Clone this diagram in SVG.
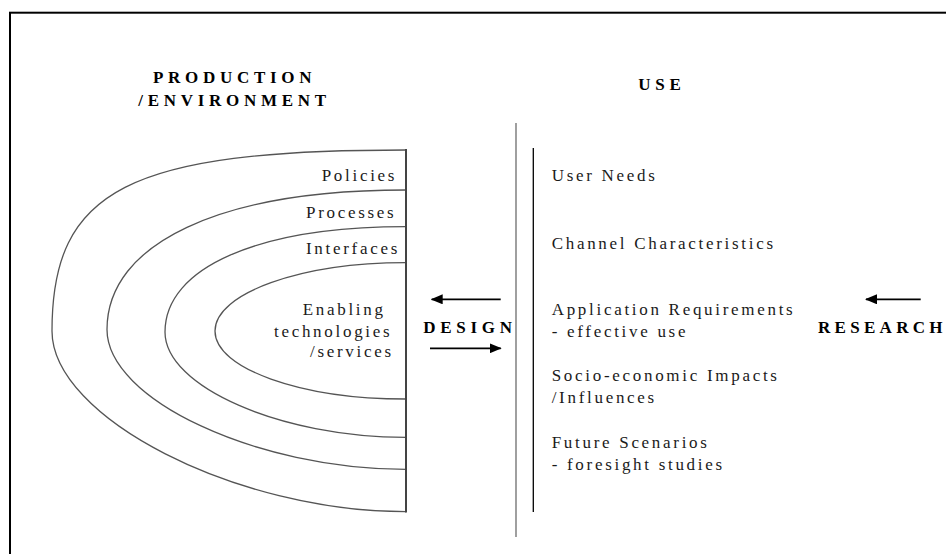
<svg xmlns="http://www.w3.org/2000/svg" width="946" height="554" viewBox="0 0 946 554">
  <style>
    .frame { fill: none; stroke: #000; stroke-width: 2; }
    .ring { fill: none; stroke: #555; stroke-width: 1.3; }
    .spine { fill: none; stroke: #444; stroke-width: 2; }
    .divider { fill: none; stroke: #888; stroke-width: 1.6; }
    .rule { fill: none; stroke: #000; stroke-width: 1.3; }
    .arrow { fill: none; stroke: #000; stroke-width: 1.8; marker-end: url(#head); }
    .head { font-family: "Liberation Serif", "Times New Roman", serif; font-weight: bold; font-size: 17px; letter-spacing: 4.7px; fill: #000; }
    .label { font-family: "Liberation Serif", "Times New Roman", serif; font-size: 17px; letter-spacing: 2.7px; fill: #1a1a1a; }
  </style>
  <defs>
    <marker id="head" viewBox="0 0 12 10" refX="11" refY="5" markerWidth="12" markerHeight="10" markerUnits="userSpaceOnUse" orient="auto">
      <path d="M0,0 L12,5 L0,10 z" fill="#000"/>
    </marker>
  </defs>

  <rect class="frame" x="10" y="12.7" width="1000" height="600"/>

  <!-- column headings -->
  <g id="production">
    <text class="head" x="153" y="82.7">PRODUCTION</text>
    <text class="head" x="138.3" y="106">/ENVIRONMENT</text>
  </g>
  <g id="use">
    <text class="head" x="638.3" y="90">USE</text>
  </g>

  <!-- nested half-rings on the production side -->
  <g id="policies">
    <path class="ring" d="M406,150 C128.8,150 52,189.3 52,331 C52,417.7 236.1,511.7 406,511.7"/>
    <text class="label" x="321.7" y="181">Policies</text>
  </g>
  <g id="processes">
    <path class="ring" d="M406,190 C220.6,190 107,243 107,329.6 C107,399.5 256.5,469.3 406,469.3"/>
    <text class="label" x="306" y="217.7">Processes</text>
  </g>
  <g id="interfaces">
    <path class="ring" d="M406,226.7 C258.3,226.7 165,267.5 165,332 C165,386.8 280.7,437.3 406,437.3"/>
    <text class="label" x="306" y="254">Interfaces</text>
  </g>
  <g id="enabling">
    <path class="ring" d="M406,262.7 C300.6,262.7 215,293.3 215,330.9 C215,368.5 300.6,399 406,399"/>
    <text class="label" x="302.7" y="315">Enabling</text>
    <text class="label" x="274" y="336.7">technologies</text>
    <text class="label" x="310" y="357.3">/services</text>
  </g>
  <line class="spine" x1="406" y1="149" x2="406" y2="512.5"/>

  <!-- design / research links -->
  <g id="design">
    <text class="head" x="423.3" y="333.3">DESIGN</text>
  </g>
  <g id="research">
    <text class="head" x="818" y="333.3" style="letter-spacing:4.3px">RESEARCH</text>
  </g>

  <!-- use side -->
  <line class="divider" x1="516" y1="123" x2="516" y2="537"/>
  <line class="rule" x1="533.3" y1="148" x2="533.3" y2="512"/>
  <g id="user-needs">
    <text class="label" x="551.7" y="181">User Needs</text>
  </g>
  <g id="channel">
    <text class="label" x="551.7" y="249">Channel Characteristics</text>
  </g>
  <g id="application">
    <text class="label" x="551.7" y="315">Application Requirements</text>
    <text class="label" x="551.7" y="336.7">- effective use</text>
  </g>
  <g id="impacts">
    <text class="label" x="551.7" y="381">Socio-economic Impacts</text>
    <text class="label" x="551.7" y="403">/Influences</text>
  </g>
  <g id="scenarios">
    <text class="label" x="551.7" y="448.3">Future Scenarios</text>
    <text class="label" x="551.7" y="470">- foresight studies</text>
  </g>

  <g id="connectors">
    <line class="arrow" x1="500.7" y1="299.3" x2="431.7" y2="299.3"/>
    <line class="arrow" x1="430" y1="348.3" x2="500.7" y2="348.3"/>
    <line class="arrow" x1="920.7" y1="299.3" x2="866" y2="299.3"/>
  </g>
</svg>
